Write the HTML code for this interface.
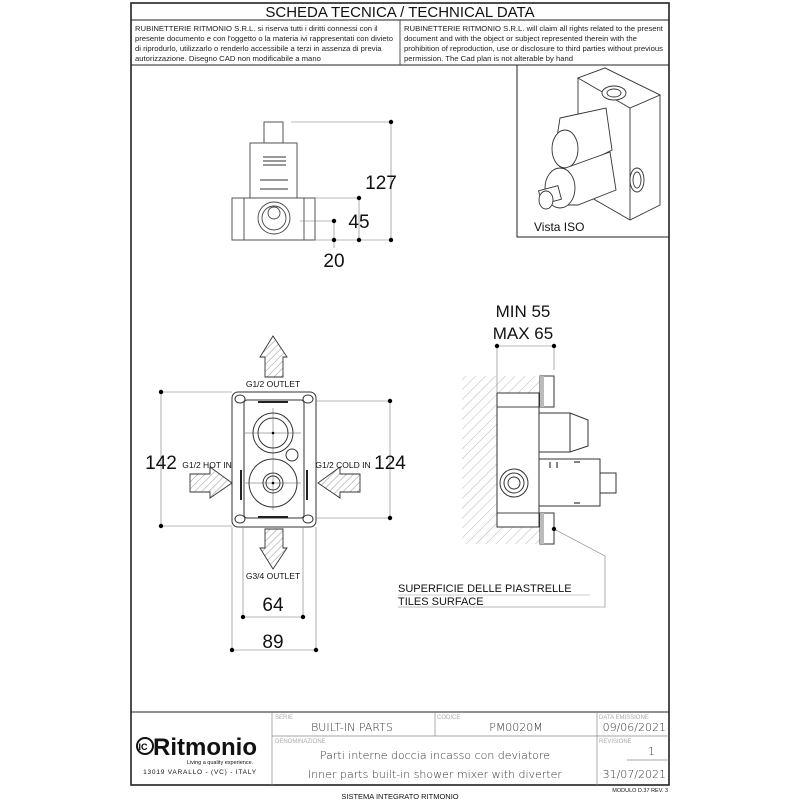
<!DOCTYPE html>
<html><head><meta charset="utf-8"><style>
html,body{margin:0;padding:0;background:#fff;}
svg{display:block;font-family:"Liberation Sans",sans-serif;}
</style></head><body>
<svg width="800" height="800" viewBox="0 0 800 800" xmlns="http://www.w3.org/2000/svg">
<defs>
<pattern id="h" width="5" height="5" patternUnits="userSpaceOnUse" patternTransform="rotate(45)">
<line x1="0" y1="0" x2="0" y2="5" stroke="#777" stroke-width="0.8"/></pattern>
<pattern id="w" width="7" height="7" patternUnits="userSpaceOnUse" patternTransform="rotate(45)">
<line x1="0" y1="0" x2="0" y2="7" stroke="#999" stroke-width="0.7"/></pattern>
</defs>
<!-- frame -->
<rect x="131" y="3" width="538" height="782" fill="none" stroke="#222" stroke-width="1.6"/>
<line x1="131" y1="20" x2="669" y2="20" stroke="#222"/>
<line x1="131" y1="65" x2="669" y2="65" stroke="#222"/>
<line x1="400" y1="20" x2="400" y2="65" stroke="#555"/>
<text x="400" y="17" font-size="15" text-anchor="middle" fill="#111">SCHEDA TECNICA / TECHNICAL DATA</text>
<g font-size="7.7" fill="#222">
<text x="135" y="31">RUBINETTERIE RITMONIO S.R.L. si riserva tutti i diritti connessi con il</text>
<text x="135" y="41" textLength="258" lengthAdjust="spacingAndGlyphs">presente documento e con l'oggetto o la materia ivi rappresentati con divieto</text>
<text x="135" y="51">di riprodurlo, utilizzarlo o renderlo accessibile a terzi in assenza di previa</text>
<text x="135" y="61">autorizzazione. Disegno CAD non modificabile a mano</text>
<text x="404" y="31">RUBINETTERIE RITMONIO S.R.L. will claim all rights related to the present</text>
<text x="404" y="41">document and with the object or subject represented therein with the</text>
<text x="404" y="51" textLength="259" lengthAdjust="spacingAndGlyphs">prohibition  of reproduction, use or disclosure to third parties without previous</text>
<text x="404" y="61">permission.  The Cad plan is not alterable by hand</text>
</g>
<!-- ISO box -->
<rect x="517" y="65" width="152" height="172" fill="none" stroke="#222"/>
<g fill="#fff" stroke="#333" stroke-width="0.9">
<polygon points="578,78 605,68 660,95 660,205 630,220 578,190"/>
<polygon points="578,78 605,68 660,95 630,108"/>
<line x1="630" y1="108" x2="630" y2="220"/>
<ellipse cx="614" cy="93" rx="12" ry="7"/><ellipse cx="614" cy="93" rx="7" ry="4"/>
<ellipse cx="637" cy="180" rx="7" ry="12"/><ellipse cx="637" cy="180" rx="4" ry="8"/>
<polygon points="560,118 606,108 612,150 572,170 555,150"/>
<ellipse cx="565" cy="149" rx="13" ry="19"/>
<polygon points="560,170 610,152 616,190 578,205 555,205"/>
<ellipse cx="560" cy="188" rx="15" ry="20"/>
<rect x="540" y="188" width="20" height="14" transform="rotate(-15 550 195)"/>
<ellipse cx="546" cy="200" rx="7" ry="9"/>
</g>
<text x="534" y="231" font-size="12" fill="#111">Vista ISO</text>

<!-- top view -->
<g fill="#fff" stroke="#444" stroke-width="0.9">
<rect x="264" y="122" width="19" height="21"/>
<rect x="250" y="143" width="47" height="55"/>
<rect x="232" y="198" width="83" height="42"/>
<line x1="244" y1="198" x2="244" y2="240"/><line x1="304" y1="198" x2="304" y2="240"/>
<circle cx="274" cy="218" r="16"/><circle cx="274" cy="218" r="12"/><circle cx="274" cy="213" r="6"/>
</g>
<g stroke="#333" stroke-width="1"><line x1="260" y1="180" x2="288" y2="180"/><line x1="260" y1="189" x2="288" y2="189"/>
<line x1="263" y1="157" x2="286" y2="157"/><line x1="263" y1="161" x2="286" y2="161"/><line x1="263" y1="165" x2="286" y2="165"/></g>
<g stroke="#777" stroke-width="0.6" fill="none">
<line x1="291" y1="122" x2="391" y2="122"/><line x1="315" y1="198" x2="359" y2="198"/>
<line x1="315" y1="240" x2="391" y2="240"/><line x1="300" y1="221" x2="334" y2="221"/>
<line x1="391" y1="122" x2="391" y2="240"/><line x1="359" y1="198" x2="359" y2="240"/><line x1="334" y1="221" x2="334" y2="248"/>
</g>
<g fill="#000"><circle cx="391" cy="122" r="2.2"/><circle cx="391" cy="240" r="2.2"/><circle cx="359" cy="198" r="2.2"/><circle cx="359" cy="240" r="2.2"/><circle cx="334" cy="221" r="2.2"/><circle cx="334" cy="240" r="2.2"/></g>
<g font-size="19" fill="#111" text-anchor="middle">
<text x="381" y="189">127</text><text x="359" y="228">45</text><text x="334" y="267">20</text>
</g>

<!-- front view -->
<g fill="#fff" stroke="#333" stroke-width="1">
<rect x="232" y="392" width="84" height="135" rx="6"/>
<rect x="244" y="400" width="60" height="118" rx="3"/>
<circle cx="273" cy="433" r="20"/><circle cx="273" cy="433" r="15"/>
<circle cx="273" cy="483" r="24"/><circle cx="273" cy="483" r="10"/><circle cx="273" cy="483" r="7"/>
<ellipse cx="240" cy="399" rx="5" ry="4"/><ellipse cx="308" cy="399" rx="5" ry="4"/>
<ellipse cx="240" cy="519" rx="5" ry="4"/><ellipse cx="308" cy="519" rx="5" ry="4"/>
<circle cx="292" cy="455" r="6"/>
</g>
<g stroke="#222" stroke-width="2"><line x1="258" y1="402" x2="288" y2="402"/><line x1="258" y1="517" x2="288" y2="517"/>
<line x1="241" y1="470" x2="241" y2="500"/><line x1="307" y1="470" x2="307" y2="500"/></g>
<g stroke="#555" stroke-width="0.5"><line x1="273" y1="408" x2="273" y2="510"/><line x1="245" y1="433" x2="301" y2="433"/><line x1="245" y1="483" x2="301" y2="483"/></g>
<g fill="#000"><circle cx="273" cy="433" r="1.3"/><circle cx="273" cy="483" r="1.3"/></g>
<!-- arrows -->
<g fill="url(#h)" stroke="#333" stroke-width="0.9">
<polygon points="273,336 287,357 283,357 283,377 265,377 265,357 260,357"/>
<polygon points="273,569 287,548 283,548 283,529 265,529 265,548 260,548"/>
<polygon points="232,483 210,467 210,474 190,474 190,492 210,492 210,498"/>
<polygon points="318,483 340,467 340,474 360,474 360,492 340,492 340,498"/>
</g>
<g font-size="8.5" fill="#111" text-anchor="middle">
<text x="273" y="387">G1/2 OUTLET</text><text x="273" y="579">G3/4 OUTLET</text>
<text x="207" y="468">G1/2 HOT IN</text><text x="343" y="468">G1/2 COLD IN</text>
</g>
<g stroke="#777" stroke-width="0.6">
<line x1="161" y1="392" x2="232" y2="392"/><line x1="161" y1="526" x2="232" y2="526"/><line x1="161" y1="392" x2="161" y2="526"/>
<line x1="316" y1="401" x2="390" y2="401"/><line x1="316" y1="518" x2="390" y2="518"/><line x1="390" y1="401" x2="390" y2="518"/>
<line x1="243" y1="527" x2="243" y2="617"/><line x1="303" y1="527" x2="303" y2="617"/><line x1="243" y1="617" x2="303" y2="617"/>
<line x1="232" y1="527" x2="232" y2="650"/><line x1="316" y1="527" x2="316" y2="650"/><line x1="232" y1="650" x2="316" y2="650"/>
</g>
<g fill="#000"><circle cx="161" cy="392" r="2.2"/><circle cx="161" cy="526" r="2.2"/><circle cx="390" cy="401" r="2.2"/><circle cx="390" cy="518" r="2.2"/>
<circle cx="243" cy="617" r="2.2"/><circle cx="303" cy="617" r="2.2"/><circle cx="232" cy="650" r="2.2"/><circle cx="316" cy="650" r="2.2"/></g>
<g font-size="19" fill="#111" text-anchor="middle">
<text x="161" y="469">142</text><text x="390" y="469">124</text><text x="273" y="611">64</text><text x="273" y="648">89</text>
</g>

<!-- side view -->
<rect x="462" y="376" width="78" height="168" fill="url(#w)"/>
<rect x="497" y="393" width="42" height="134" fill="#fff" stroke="#333"/>
<line x1="497" y1="407" x2="539" y2="407" stroke="#444"/><line x1="497" y1="513" x2="539" y2="513" stroke="#444"/>
<g fill="#fff" stroke="#333">
<rect x="540" y="376" width="14" height="31"/><rect x="540" y="513" width="14" height="31"/>
<polygon points="539,413 570,413 588,420 588,446 570,452 539,452"/>
<line x1="570" y1="413" x2="570" y2="452"/>
<rect x="539" y="459" width="61" height="47"/>
<rect x="600" y="473" width="16" height="20"/>
<circle cx="514" cy="483" r="14"/><circle cx="514" cy="483" r="10"/><circle cx="514" cy="483" r="6"/>
</g>
<rect x="540" y="376" width="4" height="31" fill="#bbb"/><rect x="540" y="513" width="4" height="31" fill="#bbb"/>
<g stroke="#333" stroke-width="1.2"><line x1="550" y1="462" x2="550" y2="468"/><line x1="557" y1="462" x2="557" y2="468"/><line x1="574" y1="462" x2="580" y2="462"/><line x1="574" y1="503" x2="580" y2="503"/></g>
<g stroke="#777" stroke-width="0.6" fill="none">
<line x1="497" y1="346" x2="497" y2="393"/><line x1="554" y1="346" x2="554" y2="370"/><line x1="497" y1="346" x2="554" y2="346"/>
<polyline points="554,529 605,556 605,607 398,607"/>
</g>
<g fill="#000"><circle cx="497" cy="346" r="2.2"/><circle cx="554" cy="346" r="2.2"/><circle cx="554" cy="529" r="2.2"/></g>
<g font-size="17" fill="#111" text-anchor="middle"><text x="523" y="317">MIN 55</text><text x="523" y="339">MAX 65</text></g>
<g font-size="11" fill="#111"><text x="398" y="592">SUPERFICIE DELLE PIASTRELLE</text><text x="398" y="605">TILES SURFACE</text></g>
<line x1="398" y1="595" x2="590" y2="595" stroke="#999" stroke-width="0.6"/>

<!-- footer -->
<line x1="131" y1="712" x2="669" y2="712" stroke="#222"/>
<line x1="272" y1="712" x2="272" y2="785" stroke="#888" stroke-width="0.7"/>
<line x1="435" y1="712" x2="435" y2="736" stroke="#888" stroke-width="0.7"/>
<line x1="597" y1="712" x2="597" y2="785" stroke="#888" stroke-width="0.7"/>
<line x1="272" y1="736" x2="669" y2="736" stroke="#888" stroke-width="0.7"/>
<line x1="627" y1="760" x2="669" y2="760" stroke="#888" stroke-width="0.7"/>
<g font-size="6" fill="#aaa"><text x="275" y="719">SERIE</text><text x="437" y="719">CODICE</text><text x="599" y="719">DATA EMISSIONE</text><text x="275" y="743">DENOMINAZIONE</text><text x="599" y="743">REVISIONE</text></g>
<g font-size="11" fill="#333" font-family="DejaVu Sans, sans-serif" font-weight="200">
<text x="352" y="731" text-anchor="middle">BUILT-IN PARTS</text>
<text x="516" y="731" text-anchor="middle">PM0020M</text>
<text x="666" y="731" text-anchor="end">09/06/2021</text>
<text x="655" y="755" text-anchor="end">1</text>
<text x="666" y="778" text-anchor="end">31/07/2021</text>
<text x="435" y="759" text-anchor="middle">Parti interne doccia incasso con deviatore</text>
<text x="435" y="778" text-anchor="middle">Inner parts built-in shower mixer with diverter</text>
</g>
<circle cx="145" cy="746" r="8" fill="none" stroke="#111" stroke-width="2"/>
<text x="143" y="750" font-size="9" font-weight="bold" text-anchor="middle">lC</text>
<text x="153" y="755" font-size="24" font-weight="bold" fill="#111">Ritmonio</text>
<text x="220" y="764" font-size="5.5" fill="#111" text-anchor="middle">Living a quality experience.</text>
<text x="200" y="774" font-size="6.5" fill="#111" text-anchor="middle" letter-spacing="0.8">13019 VARALLO - (VC) - ITALY</text>
<text x="400" y="799" font-size="7.5" fill="#111" text-anchor="middle">SISTEMA INTEGRATO RITMONIO</text>
<text x="668" y="792" font-size="5.5" fill="#111" text-anchor="end">MODULO D.37 REV. 3</text>
</svg>
</body></html>
